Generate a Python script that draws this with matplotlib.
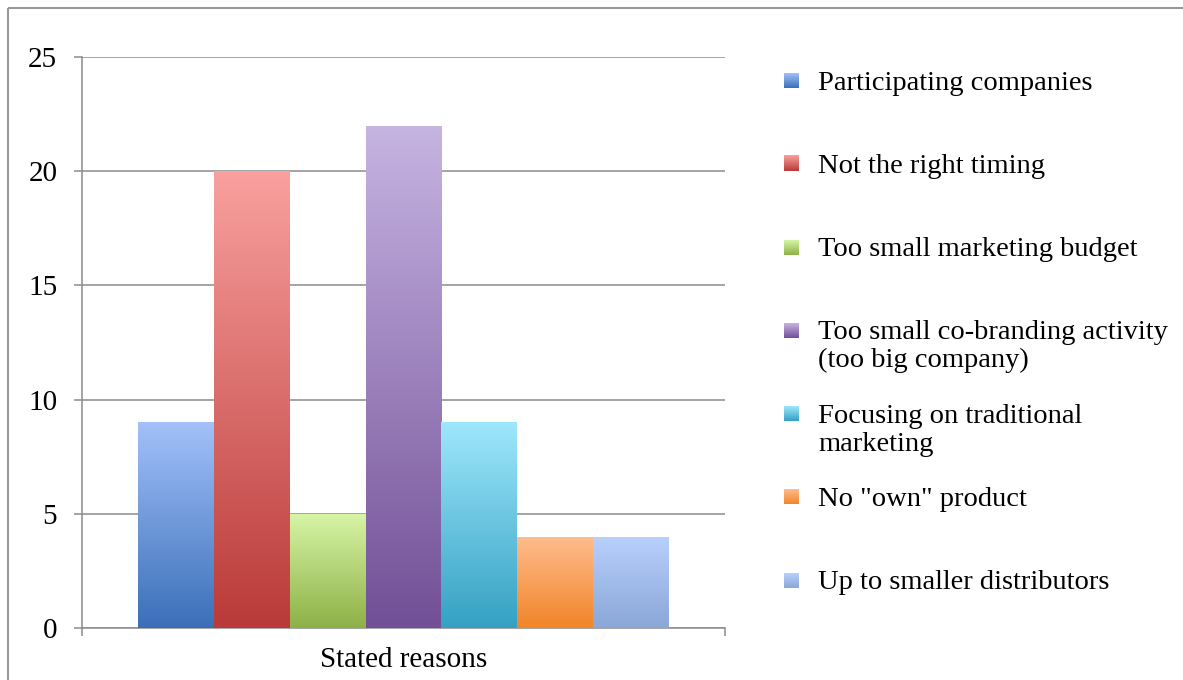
#!/usr/bin/env python3
"""
Bar chart of stated reasons (gradient bars, legend on the right).
"""

import matplotlib
matplotlib.use("Agg")
import matplotlib.pyplot as plt
import numpy as np
from matplotlib.colors import LinearSegmentedColormap
from matplotlib.patches import Rectangle

# data
category = "Stated reasons"
reasons = [
    "Participating companies",
    "Not the right timing",
    "Too small marketing budget",
    "Too small co-branding activity\n(too big company)",
    "Focusing on traditional\nmarketing",
    'No "own" product',
    "Up to smaller distributors",
]
counts = [9, 20, 5, 22, 9, 4, 4]
y_ticks = [0, 5, 10, 15, 20, 25]

# (top colour, bottom colour) for each bar gradient
top_colors = ["#a3c1fa", "#f9a09e", "#d7f5a6", "#c6b4e2", "#9ee7fc", "#ffbc8e", "#b9d0fc"]
bottom_colors = ["#3a6fb8", "#b93a38", "#8db146", "#724f96", "#34a1c3", "#f18528", "#8aa7d8"]

FONT = "Liberation Serif"
GREY = "#8c8c8c"

W, H = 1183, 680
fig = plt.figure(figsize=(W / 100, H / 100), dpi=100)

# overlay in pixel coordinates for the frame and the legend
over = fig.add_axes([0, 0, 1, 1], zorder=0)
over.axis("off")
over.add_patch(Rectangle((8, 8), W + 20, H + 20, fill=False, edgecolor="#999999", lw=1.5))

ax = fig.add_axes([82 / W, (H - 628) / H, (725 - 82) / W, (628 - 57) / H], zorder=1)
ax.set_facecolor("none")

n = len(counts)
group = 531 / 643
width = group / n
xs = 0.5 + (np.arange(n) - (n - 1) / 2) * width

grad = np.linspace(0, 1, 256).reshape(-1, 1)
bars = ax.bar(xs, counts, width=width, facecolor="none", edgecolor="none", zorder=3)
for b, top, bot in zip(bars, top_colors, bottom_colors):
    cmap = LinearSegmentedColormap.from_list("g", [bot, top])
    x0 = b.get_x()
    im = ax.imshow(grad, cmap=cmap, origin="lower", aspect="auto",
                   extent=[x0, x0 + b.get_width(), 0, b.get_height()], zorder=3)
    im.set_clip_path(b)

ax.set_xlim(0, 1)
ax.set_ylim(0, 25)
ax.set_yticks(y_ticks)
ax.set_yticklabels([str(t) for t in y_ticks], fontfamily=FONT, fontsize=21)
ax.tick_params(axis="y", length=5.8, width=1.1, color=GREY, pad=12)
ax.yaxis.grid(True, color=GREY, lw=1.1)
ax.set_axisbelow(True)

ax.set_xticks([0.5])
ax.set_xticklabels([category], fontfamily=FONT, fontsize=21)
ax.tick_params(axis="x", which="major", length=0, pad=14)
ax.set_xticks([0, 1], minor=True)
ax.tick_params(axis="x", which="minor", length=5.8, width=1.1, color=GREY)

for s in ["top", "right"]:
    ax.spines[s].set_visible(False)
for s in ["left", "bottom"]:
    ax.spines[s].set_color(GREY)
    ax.spines[s].set_linewidth(1.1)

# legend drawn by hand so entries sit at the reference spacing
y0, step, line_h = 80, 83.3, 28
for i, (label, top, bot) in enumerate(zip(reasons, top_colors, bottom_colors)):
    yc = y0 + i * step
    cmap = LinearSegmentedColormap.from_list("g", [bot, top])
    # y axis of the overlay is flipped, so the first row of the array sits at the bottom
    over.imshow(grad, cmap=cmap, origin="upper", aspect="auto",
                extent=[784, 799, yc - 7, yc + 8])
    for k, line in enumerate(label.split("\n")):
        over.text(818, yc + k * line_h, line, fontfamily=FONT, fontsize=20.5,
                  va="center_baseline", ha="left", color="black")

over.set_xlim(0, W)
over.set_ylim(H, 0)

fig.savefig("out.png", dpi=100)
